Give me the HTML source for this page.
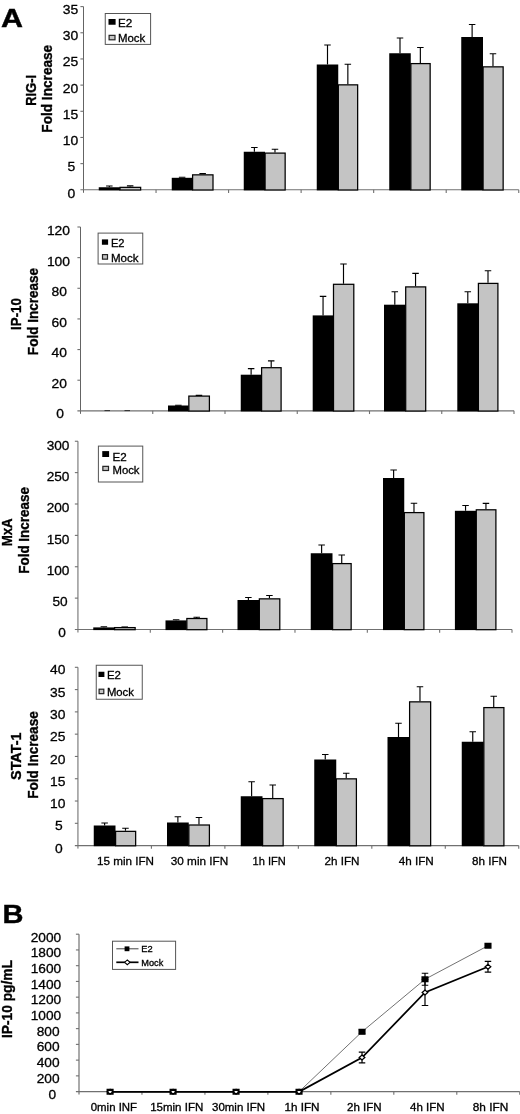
<!DOCTYPE html>
<html><head><meta charset="utf-8"><title>Figure</title>
<style>html,body{margin:0;padding:0;background:#fff;}svg{display:block;will-change:transform;filter:grayscale(1) blur(0.35px);}svg text{font-family:"Liberation Sans",sans-serif;}</style></head><body>
<svg width="520" height="1114" viewBox="0 0 520 1114" font-family="Liberation Sans, sans-serif" fill="#000">
<rect width="520" height="1114" fill="#fff"/>
<text x="1.00" y="27.20" font-size="26.5" font-weight="bold" text-anchor="start" stroke="#000" stroke-width="0.4" textLength="22.00" lengthAdjust="spacingAndGlyphs" >A</text>
<text x="2.60" y="922.60" font-size="25.5" font-weight="bold" text-anchor="start" stroke="#000" stroke-width="0.4" textLength="21.00" lengthAdjust="spacingAndGlyphs" >B</text>
<path d="M83.50 6.60V192.80" stroke="#646464" stroke-width="1.0" fill="none"/>
<path d="M80.40 189.80H518.75" stroke="#707070" stroke-width="1.1" fill="none"/>
<path d="M80.40 6.60H83.50" stroke="#707070" stroke-width="1.1"/>
<text x="62.80" y="13.85" font-size="13.4" font-weight="normal" text-anchor="start" stroke="#000" stroke-width="0.3" textLength="15.50" lengthAdjust="spacingAndGlyphs" >35</text>
<path d="M80.40 32.77H83.50" stroke="#707070" stroke-width="1.1"/>
<text x="62.80" y="40.11" font-size="13.4" font-weight="normal" text-anchor="start" stroke="#000" stroke-width="0.3" textLength="15.50" lengthAdjust="spacingAndGlyphs" >30</text>
<path d="M80.40 58.94H83.50" stroke="#707070" stroke-width="1.1"/>
<text x="62.80" y="66.38" font-size="13.4" font-weight="normal" text-anchor="start" stroke="#000" stroke-width="0.3" textLength="15.50" lengthAdjust="spacingAndGlyphs" >25</text>
<path d="M80.40 85.11H83.50" stroke="#707070" stroke-width="1.1"/>
<text x="62.80" y="92.64" font-size="13.4" font-weight="normal" text-anchor="start" stroke="#000" stroke-width="0.3" textLength="15.50" lengthAdjust="spacingAndGlyphs" >20</text>
<path d="M80.40 111.29H83.50" stroke="#707070" stroke-width="1.1"/>
<text x="62.80" y="118.91" font-size="13.4" font-weight="normal" text-anchor="start" stroke="#000" stroke-width="0.3" textLength="15.50" lengthAdjust="spacingAndGlyphs" >15</text>
<path d="M80.40 137.46H83.50" stroke="#707070" stroke-width="1.1"/>
<text x="62.80" y="145.17" font-size="13.4" font-weight="normal" text-anchor="start" stroke="#000" stroke-width="0.3" textLength="15.50" lengthAdjust="spacingAndGlyphs" >10</text>
<path d="M80.40 163.63H83.50" stroke="#707070" stroke-width="1.1"/>
<text x="67.50" y="171.44" font-size="13.4" font-weight="normal" text-anchor="start" stroke="#000" stroke-width="0.3" textLength="7.75" lengthAdjust="spacingAndGlyphs" >5</text>
<text x="67.50" y="197.70" font-size="13.4" font-weight="normal" text-anchor="start" stroke="#000" stroke-width="0.3" textLength="7.75" lengthAdjust="spacingAndGlyphs" >0</text>
<path d="M156.04 189.80v3.2" stroke="#707070" stroke-width="1.1"/>
<path d="M228.58 189.80v3.2" stroke="#707070" stroke-width="1.1"/>
<path d="M301.12 189.80v3.2" stroke="#707070" stroke-width="1.1"/>
<path d="M373.67 189.80v3.2" stroke="#707070" stroke-width="1.1"/>
<path d="M446.21 189.80v3.2" stroke="#707070" stroke-width="1.1"/>
<path d="M518.75 189.80v3.2" stroke="#707070" stroke-width="1.1"/>
<path d="M109.33 187.25V186.00M106.08 186.00H112.58" stroke="#000" stroke-width="1.15" fill="none"/>
<path d="M130.17 186.75V185.80M126.92 185.80H133.42" stroke="#000" stroke-width="1.15" fill="none"/>
<rect x="98.75" y="187.25" width="21.15" height="3.15" fill="#000"/>
<rect x="120.00" y="187.35" width="20.65" height="2.65" fill="#c4c4c4" stroke="#000" stroke-width="1.25"/>
<path d="M182.12 177.80V177.20M178.88 177.20H185.38" stroke="#000" stroke-width="1.15" fill="none"/>
<path d="M202.65 174.25V173.60M199.40 173.60H205.90" stroke="#000" stroke-width="1.15" fill="none"/>
<rect x="171.75" y="177.80" width="20.75" height="12.60" fill="#000"/>
<rect x="192.60" y="174.85" width="20.40" height="15.15" fill="#c4c4c4" stroke="#000" stroke-width="1.25"/>
<path d="M254.38 151.75V147.50M251.12 147.50H257.62" stroke="#000" stroke-width="1.15" fill="none"/>
<path d="M274.98 152.50V149.25M271.73 149.25H278.23" stroke="#000" stroke-width="1.15" fill="none"/>
<rect x="243.75" y="151.75" width="21.25" height="38.65" fill="#000"/>
<rect x="265.10" y="153.10" width="20.05" height="36.90" fill="#c4c4c4" stroke="#000" stroke-width="1.25"/>
<path d="M327.50 64.50V45.00M324.25 45.00H330.75" stroke="#000" stroke-width="1.15" fill="none"/>
<path d="M347.85 84.25V64.25M344.60 64.25H351.10" stroke="#000" stroke-width="1.15" fill="none"/>
<rect x="316.75" y="64.50" width="21.50" height="125.90" fill="#000"/>
<rect x="338.35" y="84.85" width="19.30" height="105.15" fill="#c4c4c4" stroke="#000" stroke-width="1.25"/>
<path d="M400.00 53.25V38.00M396.75 38.00H403.25" stroke="#000" stroke-width="1.15" fill="none"/>
<path d="M420.35 63.00V47.50M417.10 47.50H423.60" stroke="#000" stroke-width="1.15" fill="none"/>
<rect x="389.25" y="53.25" width="21.50" height="137.15" fill="#000"/>
<rect x="410.85" y="63.60" width="19.30" height="126.40" fill="#c4c4c4" stroke="#000" stroke-width="1.25"/>
<path d="M472.12 37.00V24.50M468.88 24.50H475.38" stroke="#000" stroke-width="1.15" fill="none"/>
<path d="M492.98 66.25V53.75M489.73 53.75H496.23" stroke="#000" stroke-width="1.15" fill="none"/>
<rect x="461.25" y="37.00" width="21.75" height="153.40" fill="#000"/>
<rect x="483.10" y="66.85" width="20.05" height="123.15" fill="#c4c4c4" stroke="#000" stroke-width="1.25"/>
<rect x="105.25" y="13.50" width="45.35" height="30.90" fill="#fff" stroke="#555" stroke-width="1"/>
<rect x="108.50" y="19.00" width="7.10" height="5.75" fill="#000"/>
<rect x="109.10" y="35.35" width="5.90" height="4.45" fill="#c4c4c4" stroke="#222" stroke-width="1.2"/>
<text x="118.00" y="26.90" font-size="11" font-weight="normal" text-anchor="start" stroke="#000" stroke-width="0.3" textLength="14.30" lengthAdjust="spacingAndGlyphs" >E2</text>
<text x="118.00" y="41.90" font-size="11" font-weight="normal" text-anchor="start" stroke="#000" stroke-width="0.3" textLength="27.30" lengthAdjust="spacingAndGlyphs" >Mock</text>
<text transform="translate(35.80,90.35) rotate(-90)" font-size="13.8" font-weight="bold" text-anchor="middle" stroke="#000" stroke-width="0.35" textLength="30.70" lengthAdjust="spacingAndGlyphs">RIG-I</text>
<text transform="translate(51.90,88.75) rotate(-90)" font-size="13.8" font-weight="bold" text-anchor="middle" stroke="#000" stroke-width="0.35" textLength="87.90" lengthAdjust="spacingAndGlyphs">Fold Increase</text>
<path d="M80.50 227.00V413.85" stroke="#646464" stroke-width="1.0" fill="none"/>
<path d="M77.40 410.85H514.00" stroke="#707070" stroke-width="1.1" fill="none"/>
<path d="M77.40 227.00H80.50" stroke="#707070" stroke-width="1.1"/>
<text x="46.90" y="235.30" font-size="13.4" font-weight="normal" text-anchor="start" stroke="#000" stroke-width="0.3" textLength="23.10" lengthAdjust="spacingAndGlyphs" >120</text>
<path d="M77.40 257.64H80.50" stroke="#707070" stroke-width="1.1"/>
<text x="46.90" y="265.82" font-size="13.4" font-weight="normal" text-anchor="start" stroke="#000" stroke-width="0.3" textLength="23.10" lengthAdjust="spacingAndGlyphs" >100</text>
<path d="M77.40 288.28H80.50" stroke="#707070" stroke-width="1.1"/>
<text x="51.60" y="296.33" font-size="13.4" font-weight="normal" text-anchor="start" stroke="#000" stroke-width="0.3" textLength="15.40" lengthAdjust="spacingAndGlyphs" >80</text>
<path d="M77.40 318.93H80.50" stroke="#707070" stroke-width="1.1"/>
<text x="51.60" y="326.85" font-size="13.4" font-weight="normal" text-anchor="start" stroke="#000" stroke-width="0.3" textLength="15.40" lengthAdjust="spacingAndGlyphs" >60</text>
<path d="M77.40 349.57H80.50" stroke="#707070" stroke-width="1.1"/>
<text x="51.60" y="357.37" font-size="13.4" font-weight="normal" text-anchor="start" stroke="#000" stroke-width="0.3" textLength="15.40" lengthAdjust="spacingAndGlyphs" >40</text>
<path d="M77.40 380.21H80.50" stroke="#707070" stroke-width="1.1"/>
<text x="51.60" y="387.88" font-size="13.4" font-weight="normal" text-anchor="start" stroke="#000" stroke-width="0.3" textLength="15.40" lengthAdjust="spacingAndGlyphs" >20</text>
<text x="56.30" y="418.40" font-size="13.4" font-weight="normal" text-anchor="start" stroke="#000" stroke-width="0.3" textLength="7.70" lengthAdjust="spacingAndGlyphs" >0</text>
<path d="M152.75 410.85v3.2" stroke="#707070" stroke-width="1.1"/>
<path d="M225.00 410.85v3.2" stroke="#707070" stroke-width="1.1"/>
<path d="M297.25 410.85v3.2" stroke="#707070" stroke-width="1.1"/>
<path d="M369.50 410.85v3.2" stroke="#707070" stroke-width="1.1"/>
<path d="M441.75 410.85v3.2" stroke="#707070" stroke-width="1.1"/>
<path d="M514.00 410.85v3.2" stroke="#707070" stroke-width="1.1"/>
<path d="M178.38 405.50V405.20M175.12 405.20H181.62" stroke="#000" stroke-width="1.15" fill="none"/>
<path d="M198.97 395.50V395.30M195.72 395.30H202.22" stroke="#000" stroke-width="1.15" fill="none"/>
<rect x="168.00" y="405.50" width="20.75" height="5.95" fill="#000"/>
<rect x="188.85" y="396.10" width="20.55" height="14.95" fill="#c4c4c4" stroke="#000" stroke-width="1.25"/>
<path d="M251.12 374.70V368.60M247.88 368.60H254.38" stroke="#000" stroke-width="1.15" fill="none"/>
<path d="M271.20 367.10V360.90M267.95 360.90H274.45" stroke="#000" stroke-width="1.15" fill="none"/>
<rect x="240.75" y="374.70" width="20.75" height="36.75" fill="#000"/>
<rect x="261.60" y="367.70" width="19.50" height="43.35" fill="#c4c4c4" stroke="#000" stroke-width="1.25"/>
<path d="M323.05 315.40V296.30M319.80 296.30H326.30" stroke="#000" stroke-width="1.15" fill="none"/>
<path d="M343.50 283.70V264.00M340.25 264.00H346.75" stroke="#000" stroke-width="1.15" fill="none"/>
<rect x="312.70" y="315.40" width="20.70" height="96.05" fill="#000"/>
<rect x="333.50" y="284.30" width="20.30" height="126.75" fill="#c4c4c4" stroke="#000" stroke-width="1.25"/>
<path d="M394.80 304.70V291.70M391.55 291.70H398.05" stroke="#000" stroke-width="1.15" fill="none"/>
<path d="M415.55 286.30V273.40M412.30 273.40H418.80" stroke="#000" stroke-width="1.15" fill="none"/>
<rect x="384.00" y="304.70" width="21.60" height="106.75" fill="#000"/>
<rect x="405.70" y="286.90" width="20.00" height="124.15" fill="#c4c4c4" stroke="#000" stroke-width="1.25"/>
<path d="M467.80 303.30V291.70M464.55 291.70H471.05" stroke="#000" stroke-width="1.15" fill="none"/>
<path d="M488.00 282.80V270.70M484.75 270.70H491.25" stroke="#000" stroke-width="1.15" fill="none"/>
<rect x="457.30" y="303.30" width="21.00" height="108.15" fill="#000"/>
<rect x="478.40" y="283.40" width="19.50" height="127.65" fill="#c4c4c4" stroke="#000" stroke-width="1.25"/>
<rect x="98.10" y="233.10" width="44.65" height="30.90" fill="#fff" stroke="#555" stroke-width="1"/>
<rect x="101.90" y="239.40" width="6.20" height="5.35" fill="#000"/>
<rect x="102.50" y="254.60" width="5.00" height="4.55" fill="#c4c4c4" stroke="#222" stroke-width="1.2"/>
<text x="110.90" y="246.50" font-size="11" font-weight="normal" text-anchor="start" stroke="#000" stroke-width="0.3" textLength="13.60" lengthAdjust="spacingAndGlyphs" >E2</text>
<text x="110.90" y="261.60" font-size="11" font-weight="normal" text-anchor="start" stroke="#000" stroke-width="0.3" textLength="27.60" lengthAdjust="spacingAndGlyphs" >Mock</text>
<text transform="translate(20.50,314.00) rotate(-90)" font-size="13.8" font-weight="bold" text-anchor="middle" stroke="#000" stroke-width="0.35" textLength="31.80" lengthAdjust="spacingAndGlyphs">IP-10</text>
<text transform="translate(37.90,311.50) rotate(-90)" font-size="13.8" font-weight="bold" text-anchor="middle" stroke="#000" stroke-width="0.35" textLength="87.30" lengthAdjust="spacingAndGlyphs">Fold Increase</text>
<path d="M77.95 441.25V632.50" stroke="#646464" stroke-width="1.0" fill="none"/>
<path d="M74.85 629.50H512.00" stroke="#707070" stroke-width="1.1" fill="none"/>
<path d="M74.85 441.25H77.95" stroke="#707070" stroke-width="1.1"/>
<text x="46.65" y="450.00" font-size="13.4" font-weight="normal" text-anchor="start" stroke="#000" stroke-width="0.3" textLength="22.80" lengthAdjust="spacingAndGlyphs" >300</text>
<path d="M74.85 472.62H77.95" stroke="#707070" stroke-width="1.1"/>
<text x="46.65" y="481.20" font-size="13.4" font-weight="normal" text-anchor="start" stroke="#000" stroke-width="0.3" textLength="22.80" lengthAdjust="spacingAndGlyphs" >250</text>
<path d="M74.85 504.00H77.95" stroke="#707070" stroke-width="1.1"/>
<text x="46.65" y="512.40" font-size="13.4" font-weight="normal" text-anchor="start" stroke="#000" stroke-width="0.3" textLength="22.80" lengthAdjust="spacingAndGlyphs" >200</text>
<path d="M74.85 535.38H77.95" stroke="#707070" stroke-width="1.1"/>
<text x="46.65" y="543.60" font-size="13.4" font-weight="normal" text-anchor="start" stroke="#000" stroke-width="0.3" textLength="22.80" lengthAdjust="spacingAndGlyphs" >150</text>
<path d="M74.85 566.75H77.95" stroke="#707070" stroke-width="1.1"/>
<text x="46.65" y="574.80" font-size="13.4" font-weight="normal" text-anchor="start" stroke="#000" stroke-width="0.3" textLength="22.80" lengthAdjust="spacingAndGlyphs" >100</text>
<path d="M74.85 598.12H77.95" stroke="#707070" stroke-width="1.1"/>
<text x="52.45" y="606.00" font-size="13.4" font-weight="normal" text-anchor="start" stroke="#000" stroke-width="0.3" textLength="15.20" lengthAdjust="spacingAndGlyphs" >50</text>
<text x="58.25" y="637.20" font-size="13.4" font-weight="normal" text-anchor="start" stroke="#000" stroke-width="0.3" textLength="7.60" lengthAdjust="spacingAndGlyphs" >0</text>
<path d="M150.29 629.50v3.2" stroke="#707070" stroke-width="1.1"/>
<path d="M222.63 629.50v3.2" stroke="#707070" stroke-width="1.1"/>
<path d="M294.98 629.50v3.2" stroke="#707070" stroke-width="1.1"/>
<path d="M367.32 629.50v3.2" stroke="#707070" stroke-width="1.1"/>
<path d="M439.66 629.50v3.2" stroke="#707070" stroke-width="1.1"/>
<path d="M512.00 629.50v3.2" stroke="#707070" stroke-width="1.1"/>
<path d="M103.88 627.40V626.70M100.62 626.70H107.12" stroke="#000" stroke-width="1.15" fill="none"/>
<path d="M124.72 627.00V627.00M121.47 627.00H127.97" stroke="#000" stroke-width="1.15" fill="none"/>
<rect x="93.25" y="627.40" width="21.25" height="2.70" fill="#000"/>
<rect x="114.60" y="627.60" width="20.55" height="2.10" fill="#c4c4c4" stroke="#000" stroke-width="1.25"/>
<path d="M176.12 620.40V619.70M172.88 619.70H179.38" stroke="#000" stroke-width="1.15" fill="none"/>
<path d="M196.72 617.90V617.20M193.47 617.20H199.97" stroke="#000" stroke-width="1.15" fill="none"/>
<rect x="165.50" y="620.40" width="21.25" height="9.70" fill="#000"/>
<rect x="186.85" y="618.50" width="20.05" height="11.20" fill="#c4c4c4" stroke="#000" stroke-width="1.25"/>
<path d="M248.38 600.00V597.50M245.12 597.50H251.62" stroke="#000" stroke-width="1.15" fill="none"/>
<path d="M269.43 598.25V595.50M266.18 595.50H272.68" stroke="#000" stroke-width="1.15" fill="none"/>
<rect x="237.50" y="600.00" width="21.75" height="30.10" fill="#000"/>
<rect x="259.35" y="598.85" width="20.45" height="30.85" fill="#c4c4c4" stroke="#000" stroke-width="1.25"/>
<path d="M321.62 553.25V545.00M318.38 545.00H324.88" stroke="#000" stroke-width="1.15" fill="none"/>
<path d="M341.73 563.00V555.00M338.48 555.00H344.98" stroke="#000" stroke-width="1.15" fill="none"/>
<rect x="310.75" y="553.25" width="21.75" height="76.85" fill="#000"/>
<rect x="332.60" y="563.60" width="18.55" height="66.10" fill="#c4c4c4" stroke="#000" stroke-width="1.25"/>
<path d="M393.62 478.00V470.00M390.38 470.00H396.88" stroke="#000" stroke-width="1.15" fill="none"/>
<path d="M413.98 512.00V503.25M410.73 503.25H417.23" stroke="#000" stroke-width="1.15" fill="none"/>
<rect x="383.00" y="478.00" width="21.25" height="152.10" fill="#000"/>
<rect x="404.35" y="512.60" width="19.55" height="117.10" fill="#c4c4c4" stroke="#000" stroke-width="1.25"/>
<path d="M465.55 510.80V505.50M462.30 505.50H468.80" stroke="#000" stroke-width="1.15" fill="none"/>
<path d="M485.95 509.20V503.40M482.70 503.40H489.20" stroke="#000" stroke-width="1.15" fill="none"/>
<rect x="454.90" y="510.80" width="21.30" height="119.30" fill="#000"/>
<rect x="476.30" y="509.80" width="19.60" height="119.90" fill="#c4c4c4" stroke="#000" stroke-width="1.25"/>
<rect x="98.40" y="446.10" width="44.35" height="35.90" fill="#fff" stroke="#555" stroke-width="1"/>
<rect x="102.25" y="451.10" width="6.85" height="5.90" fill="#000"/>
<rect x="102.85" y="466.35" width="5.65" height="4.15" fill="#c4c4c4" stroke="#222" stroke-width="1.2"/>
<text x="112.50" y="460.50" font-size="11" font-weight="normal" text-anchor="start" stroke="#000" stroke-width="0.3" textLength="14.20" lengthAdjust="spacingAndGlyphs" >E2</text>
<text x="112.50" y="474.25" font-size="11" font-weight="normal" text-anchor="start" stroke="#000" stroke-width="0.3" textLength="27.00" lengthAdjust="spacingAndGlyphs" >Mock</text>
<text transform="translate(12.10,532.30) rotate(-90)" font-size="13.8" font-weight="bold" text-anchor="middle" stroke="#000" stroke-width="0.35" textLength="28.00" lengthAdjust="spacingAndGlyphs">MxA</text>
<text transform="translate(28.90,530.40) rotate(-90)" font-size="13.8" font-weight="bold" text-anchor="middle" stroke="#000" stroke-width="0.35" textLength="86.75" lengthAdjust="spacingAndGlyphs">Fold Increase</text>
<path d="M77.95 667.30V848.60" stroke="#646464" stroke-width="1.0" fill="none"/>
<path d="M74.85 845.60H518.75" stroke="#707070" stroke-width="1.1" fill="none"/>
<path d="M74.85 667.30H77.95" stroke="#707070" stroke-width="1.1"/>
<text x="50.00" y="674.20" font-size="13.4" font-weight="normal" text-anchor="start" stroke="#000" stroke-width="0.3" textLength="15.40" lengthAdjust="spacingAndGlyphs" >40</text>
<path d="M74.85 689.59H77.95" stroke="#707070" stroke-width="1.1"/>
<text x="50.00" y="696.53" font-size="13.4" font-weight="normal" text-anchor="start" stroke="#000" stroke-width="0.3" textLength="15.40" lengthAdjust="spacingAndGlyphs" >35</text>
<path d="M74.85 711.88H77.95" stroke="#707070" stroke-width="1.1"/>
<text x="50.00" y="718.85" font-size="13.4" font-weight="normal" text-anchor="start" stroke="#000" stroke-width="0.3" textLength="15.40" lengthAdjust="spacingAndGlyphs" >30</text>
<path d="M74.85 734.16H77.95" stroke="#707070" stroke-width="1.1"/>
<text x="50.00" y="741.17" font-size="13.4" font-weight="normal" text-anchor="start" stroke="#000" stroke-width="0.3" textLength="15.40" lengthAdjust="spacingAndGlyphs" >25</text>
<path d="M74.85 756.45H77.95" stroke="#707070" stroke-width="1.1"/>
<text x="50.00" y="763.50" font-size="13.4" font-weight="normal" text-anchor="start" stroke="#000" stroke-width="0.3" textLength="15.40" lengthAdjust="spacingAndGlyphs" >20</text>
<path d="M74.85 778.74H77.95" stroke="#707070" stroke-width="1.1"/>
<text x="50.00" y="785.83" font-size="13.4" font-weight="normal" text-anchor="start" stroke="#000" stroke-width="0.3" textLength="15.40" lengthAdjust="spacingAndGlyphs" >15</text>
<path d="M74.85 801.02H77.95" stroke="#707070" stroke-width="1.1"/>
<text x="50.00" y="808.15" font-size="13.4" font-weight="normal" text-anchor="start" stroke="#000" stroke-width="0.3" textLength="15.40" lengthAdjust="spacingAndGlyphs" >10</text>
<path d="M74.85 823.31H77.95" stroke="#707070" stroke-width="1.1"/>
<text x="55.00" y="830.47" font-size="13.4" font-weight="normal" text-anchor="start" stroke="#000" stroke-width="0.3" textLength="7.70" lengthAdjust="spacingAndGlyphs" >5</text>
<text x="55.00" y="852.80" font-size="13.4" font-weight="normal" text-anchor="start" stroke="#000" stroke-width="0.3" textLength="7.70" lengthAdjust="spacingAndGlyphs" >0</text>
<path d="M151.42 845.60v3.2" stroke="#707070" stroke-width="1.1"/>
<path d="M224.88 845.60v3.2" stroke="#707070" stroke-width="1.1"/>
<path d="M298.35 845.60v3.2" stroke="#707070" stroke-width="1.1"/>
<path d="M371.82 845.60v3.2" stroke="#707070" stroke-width="1.1"/>
<path d="M445.28 845.60v3.2" stroke="#707070" stroke-width="1.1"/>
<path d="M518.75 845.60v3.2" stroke="#707070" stroke-width="1.1"/>
<path d="M104.62 825.50V823.00M101.38 823.00H107.88" stroke="#000" stroke-width="1.15" fill="none"/>
<path d="M125.47 830.75V828.25M122.22 828.25H128.72" stroke="#000" stroke-width="1.15" fill="none"/>
<rect x="93.75" y="825.50" width="21.75" height="20.70" fill="#000"/>
<rect x="115.60" y="831.35" width="20.05" height="14.45" fill="#c4c4c4" stroke="#000" stroke-width="1.25"/>
<path d="M177.88 822.50V816.75M174.62 816.75H181.12" stroke="#000" stroke-width="1.15" fill="none"/>
<path d="M198.97 824.40V817.50M195.72 817.50H202.22" stroke="#000" stroke-width="1.15" fill="none"/>
<rect x="167.00" y="822.50" width="21.75" height="23.70" fill="#000"/>
<rect x="188.85" y="825.00" width="20.55" height="20.80" fill="#c4c4c4" stroke="#000" stroke-width="1.25"/>
<path d="M251.62 796.25V781.75M248.38 781.75H254.88" stroke="#000" stroke-width="1.15" fill="none"/>
<path d="M272.73 798.00V785.00M269.48 785.00H275.98" stroke="#000" stroke-width="1.15" fill="none"/>
<rect x="240.75" y="796.25" width="21.75" height="49.95" fill="#000"/>
<rect x="262.60" y="798.60" width="20.55" height="47.20" fill="#c4c4c4" stroke="#000" stroke-width="1.25"/>
<path d="M325.25 759.50V754.50M322.00 754.50H328.50" stroke="#000" stroke-width="1.15" fill="none"/>
<path d="M346.23 778.25V773.25M342.98 773.25H349.48" stroke="#000" stroke-width="1.15" fill="none"/>
<rect x="314.25" y="759.50" width="22.00" height="86.70" fill="#000"/>
<rect x="336.35" y="778.85" width="20.05" height="66.95" fill="#c4c4c4" stroke="#000" stroke-width="1.25"/>
<path d="M398.50 737.00V723.25M395.25 723.25H401.75" stroke="#000" stroke-width="1.15" fill="none"/>
<path d="M419.98 701.25V686.75M416.73 686.75H423.23" stroke="#000" stroke-width="1.15" fill="none"/>
<rect x="387.50" y="737.00" width="22.00" height="109.20" fill="#000"/>
<rect x="409.60" y="701.85" width="21.05" height="143.95" fill="#c4c4c4" stroke="#000" stroke-width="1.25"/>
<path d="M472.75 741.75V731.75M469.50 731.75H476.00" stroke="#000" stroke-width="1.15" fill="none"/>
<path d="M493.73 707.00V696.25M490.48 696.25H496.98" stroke="#000" stroke-width="1.15" fill="none"/>
<rect x="461.75" y="741.75" width="22.00" height="104.45" fill="#000"/>
<rect x="483.85" y="707.60" width="20.05" height="138.20" fill="#c4c4c4" stroke="#000" stroke-width="1.25"/>
<rect x="96.25" y="665.25" width="46.00" height="34.00" fill="#fff" stroke="#555" stroke-width="1"/>
<rect x="98.50" y="671.75" width="5.90" height="5.25" fill="#000"/>
<rect x="99.10" y="689.20" width="4.70" height="4.45" fill="#c4c4c4" stroke="#222" stroke-width="1.2"/>
<text x="106.90" y="679.00" font-size="11" font-weight="normal" text-anchor="start" stroke="#000" stroke-width="0.3" textLength="14.00" lengthAdjust="spacingAndGlyphs" >E2</text>
<text x="106.90" y="695.75" font-size="11" font-weight="normal" text-anchor="start" stroke="#000" stroke-width="0.3" textLength="27.00" lengthAdjust="spacingAndGlyphs" >Mock</text>
<text transform="translate(21.25,756.25) rotate(-90)" font-size="13.8" font-weight="bold" text-anchor="middle" stroke="#000" stroke-width="0.35" textLength="47.50" lengthAdjust="spacingAndGlyphs">STAT-1</text>
<text transform="translate(38.40,755.00) rotate(-90)" font-size="13.8" font-weight="bold" text-anchor="middle" stroke="#000" stroke-width="0.35" textLength="87.50" lengthAdjust="spacingAndGlyphs">Fold Increase</text>
<path d="M104.5 410.6h5.5M124.5 410.6h5.5" stroke="#222" stroke-width="0.9"/>
<text x="97.05" y="865.20" font-size="11.8" font-weight="normal" text-anchor="start" stroke="#000" stroke-width="0.3" textLength="57.00" lengthAdjust="spacingAndGlyphs" >15 min IFN</text>
<text x="170.75" y="865.20" font-size="11.8" font-weight="normal" text-anchor="start" stroke="#000" stroke-width="0.3" textLength="57.55" lengthAdjust="spacingAndGlyphs" >30 min IFN</text>
<text x="252.55" y="865.20" font-size="11.8" font-weight="normal" text-anchor="start" stroke="#000" stroke-width="0.3" textLength="33.25" lengthAdjust="spacingAndGlyphs" >1h IFN</text>
<text x="324.50" y="865.20" font-size="11.8" font-weight="normal" text-anchor="start" stroke="#000" stroke-width="0.3" textLength="35.05" lengthAdjust="spacingAndGlyphs" >2h IFN</text>
<text x="398.75" y="865.20" font-size="11.8" font-weight="normal" text-anchor="start" stroke="#000" stroke-width="0.3" textLength="35.05" lengthAdjust="spacingAndGlyphs" >4h IFN</text>
<text x="472.00" y="865.20" font-size="11.8" font-weight="normal" text-anchor="start" stroke="#000" stroke-width="0.3" textLength="35.05" lengthAdjust="spacingAndGlyphs" >8h IFN</text>
<path d="M79.0 934.2V1094.6" stroke="#777" stroke-width="1.25" fill="none"/>
<path d="M75.9 1091.6H519.75" stroke="#707070" stroke-width="1.1" fill="none"/>
<path d="M75.9 934.20H79.0" stroke="#707070" stroke-width="1.1"/>
<text x="30.75" y="941.80" font-size="13.4" font-weight="normal" text-anchor="start" stroke="#000" stroke-width="0.3" textLength="30.48" lengthAdjust="spacingAndGlyphs" >2000</text>
<path d="M75.9 949.94H79.0" stroke="#707070" stroke-width="1.1"/>
<text x="30.75" y="957.47" font-size="13.4" font-weight="normal" text-anchor="start" stroke="#000" stroke-width="0.3" textLength="30.48" lengthAdjust="spacingAndGlyphs" >1800</text>
<path d="M75.9 965.68H79.0" stroke="#707070" stroke-width="1.1"/>
<text x="30.75" y="973.14" font-size="13.4" font-weight="normal" text-anchor="start" stroke="#000" stroke-width="0.3" textLength="30.48" lengthAdjust="spacingAndGlyphs" >1600</text>
<path d="M75.9 981.42H79.0" stroke="#707070" stroke-width="1.1"/>
<text x="30.75" y="988.81" font-size="13.4" font-weight="normal" text-anchor="start" stroke="#000" stroke-width="0.3" textLength="30.48" lengthAdjust="spacingAndGlyphs" >1400</text>
<path d="M75.9 997.16H79.0" stroke="#707070" stroke-width="1.1"/>
<text x="30.75" y="1004.48" font-size="13.4" font-weight="normal" text-anchor="start" stroke="#000" stroke-width="0.3" textLength="30.48" lengthAdjust="spacingAndGlyphs" >1200</text>
<path d="M75.9 1012.90H79.0" stroke="#707070" stroke-width="1.1"/>
<text x="30.75" y="1020.15" font-size="13.4" font-weight="normal" text-anchor="start" stroke="#000" stroke-width="0.3" textLength="30.48" lengthAdjust="spacingAndGlyphs" >1000</text>
<path d="M75.9 1028.64H79.0" stroke="#707070" stroke-width="1.1"/>
<text x="36.65" y="1035.82" font-size="13.4" font-weight="normal" text-anchor="start" stroke="#000" stroke-width="0.3" textLength="22.86" lengthAdjust="spacingAndGlyphs" >800</text>
<path d="M75.9 1044.38H79.0" stroke="#707070" stroke-width="1.1"/>
<text x="36.65" y="1051.49" font-size="13.4" font-weight="normal" text-anchor="start" stroke="#000" stroke-width="0.3" textLength="22.86" lengthAdjust="spacingAndGlyphs" >600</text>
<path d="M75.9 1060.12H79.0" stroke="#707070" stroke-width="1.1"/>
<text x="36.65" y="1067.16" font-size="13.4" font-weight="normal" text-anchor="start" stroke="#000" stroke-width="0.3" textLength="22.86" lengthAdjust="spacingAndGlyphs" >400</text>
<path d="M75.9 1075.86H79.0" stroke="#707070" stroke-width="1.1"/>
<text x="36.65" y="1082.83" font-size="13.4" font-weight="normal" text-anchor="start" stroke="#000" stroke-width="0.3" textLength="22.86" lengthAdjust="spacingAndGlyphs" >200</text>
<text x="48.45" y="1098.50" font-size="13.4" font-weight="normal" text-anchor="start" stroke="#000" stroke-width="0.3" textLength="7.62" lengthAdjust="spacingAndGlyphs" >0</text>
<path d="M141.96 1091.6v3.2" stroke="#707070" stroke-width="1.1"/>
<path d="M204.93 1091.6v3.2" stroke="#707070" stroke-width="1.1"/>
<path d="M267.89 1091.6v3.2" stroke="#707070" stroke-width="1.1"/>
<path d="M330.86 1091.6v3.2" stroke="#707070" stroke-width="1.1"/>
<path d="M393.82 1091.6v3.2" stroke="#707070" stroke-width="1.1"/>
<path d="M456.79 1091.6v3.2" stroke="#707070" stroke-width="1.1"/>
<path d="M519.75 1091.6v3.2" stroke="#707070" stroke-width="1.1"/>
<polyline fill="none" stroke="#6a6a6a" stroke-width="0.95" points="110.10,1091.75 173.08,1091.75 236.06,1091.75 299.04,1091.75 362.02,1031.75 425.00,979.25 487.98,945.75"/>
<polyline fill="none" stroke="#000" stroke-width="1.75" points="110.10,1091.75 173.08,1091.75 236.06,1091.75 299.04,1091.75 362.02,1057.50 425.00,992.50 487.98,966.75"/>
<path d="M362.02 1029.75V1033.75M358.77 1029.75h6.5M358.77 1033.75h6.5" stroke="#000" stroke-width="1.2" fill="none"/>
<path d="M425.00 973.25V985.25M421.75 973.25h6.5M421.75 985.25h6.5" stroke="#000" stroke-width="1.2" fill="none"/>
<path d="M362.02 1052.10V1062.90M358.77 1052.10h6.5M358.77 1062.90h6.5" stroke="#000" stroke-width="1.2" fill="none"/>
<path d="M425.00 979.50V1005.50M421.75 979.50h6.5M421.75 1005.50h6.5" stroke="#000" stroke-width="1.2" fill="none"/>
<path d="M487.98 961.35V972.15M484.73 961.35h6.5M484.73 972.15h6.5" stroke="#000" stroke-width="1.2" fill="none"/>
<rect x="106.55" y="1088.75" width="7.1" height="6.0" fill="#000"/>
<rect x="169.53" y="1088.75" width="7.1" height="6.0" fill="#000"/>
<rect x="232.51" y="1088.75" width="7.1" height="6.0" fill="#000"/>
<rect x="295.49" y="1088.75" width="7.1" height="6.0" fill="#000"/>
<rect x="358.47" y="1028.75" width="7.1" height="6.0" fill="#000"/>
<rect x="421.45" y="976.25" width="7.1" height="6.0" fill="#000"/>
<rect x="484.43" y="942.75" width="7.1" height="6.0" fill="#000"/>
<path d="M107.30 1091.75L110.10 1089.25L112.90 1091.75L110.10 1094.25Z" fill="#fff" stroke="#000" stroke-width="1.3"/>
<path d="M170.28 1091.75L173.08 1089.25L175.88 1091.75L173.08 1094.25Z" fill="#fff" stroke="#000" stroke-width="1.3"/>
<path d="M233.26 1091.75L236.06 1089.25L238.86 1091.75L236.06 1094.25Z" fill="#fff" stroke="#000" stroke-width="1.3"/>
<path d="M296.24 1091.75L299.04 1089.25L301.84 1091.75L299.04 1094.25Z" fill="#fff" stroke="#000" stroke-width="1.3"/>
<path d="M359.22 1057.50L362.02 1055.00L364.82 1057.50L362.02 1060.00Z" fill="#fff" stroke="#000" stroke-width="1.3"/>
<path d="M422.20 992.50L425.00 990.00L427.80 992.50L425.00 995.00Z" fill="#fff" stroke="#000" stroke-width="1.3"/>
<path d="M485.18 966.75L487.98 964.25L490.78 966.75L487.98 969.25Z" fill="#fff" stroke="#000" stroke-width="1.3"/>
<rect x="112.5" y="941.2" width="63.1" height="28.2" fill="#fff" stroke="#555" stroke-width="1"/>
<path d="M116.3 948.8H138.5" stroke="#444" stroke-width="1"/>
<rect x="124.6" y="946.4" width="4.8" height="4.8" fill="#000"/>
<path d="M116.3 962.3H138.5" stroke="#000" stroke-width="1.7"/>
<path d="M124.6 962.3L127.3 959.9L130 962.3L127.3 964.7Z" fill="#fff" stroke="#000" stroke-width="1.1"/>
<text x="141.30" y="952.30" font-size="9" font-weight="normal" text-anchor="start" stroke="#000" stroke-width="0.3" textLength="11.40" lengthAdjust="spacingAndGlyphs" >E2</text>
<text x="141.30" y="966.20" font-size="9" font-weight="normal" text-anchor="start" stroke="#000" stroke-width="0.3" textLength="22.00" lengthAdjust="spacingAndGlyphs" >Mock</text>
<text transform="translate(12.10,999.00) rotate(-90)" font-size="14.6" font-weight="bold" text-anchor="middle" stroke="#000" stroke-width="0.35" textLength="78.00" lengthAdjust="spacingAndGlyphs">IP-10 pg/mL</text>
<text x="90.75" y="1110.50" font-size="10.5" font-weight="normal" text-anchor="start" stroke="#000" stroke-width="0.3" textLength="46.30" lengthAdjust="spacingAndGlyphs" >0min INF</text>
<text x="150.15" y="1110.50" font-size="10.5" font-weight="normal" text-anchor="start" stroke="#000" stroke-width="0.3" textLength="53.15" lengthAdjust="spacingAndGlyphs" >15min IFN</text>
<text x="212.00" y="1110.50" font-size="10.5" font-weight="normal" text-anchor="start" stroke="#000" stroke-width="0.3" textLength="53.05" lengthAdjust="spacingAndGlyphs" >30min IFN</text>
<text x="284.40" y="1110.50" font-size="10.5" font-weight="normal" text-anchor="start" stroke="#000" stroke-width="0.3" textLength="35.15" lengthAdjust="spacingAndGlyphs" >1h IFN</text>
<text x="347.00" y="1110.50" font-size="10.5" font-weight="normal" text-anchor="start" stroke="#000" stroke-width="0.3" textLength="34.55" lengthAdjust="spacingAndGlyphs" >2h IFN</text>
<text x="410.00" y="1110.50" font-size="10.5" font-weight="normal" text-anchor="start" stroke="#000" stroke-width="0.3" textLength="34.55" lengthAdjust="spacingAndGlyphs" >4h IFN</text>
<text x="472.75" y="1110.50" font-size="10.5" font-weight="normal" text-anchor="start" stroke="#000" stroke-width="0.3" textLength="35.55" lengthAdjust="spacingAndGlyphs" >8h IFN</text>
</svg></body></html>
